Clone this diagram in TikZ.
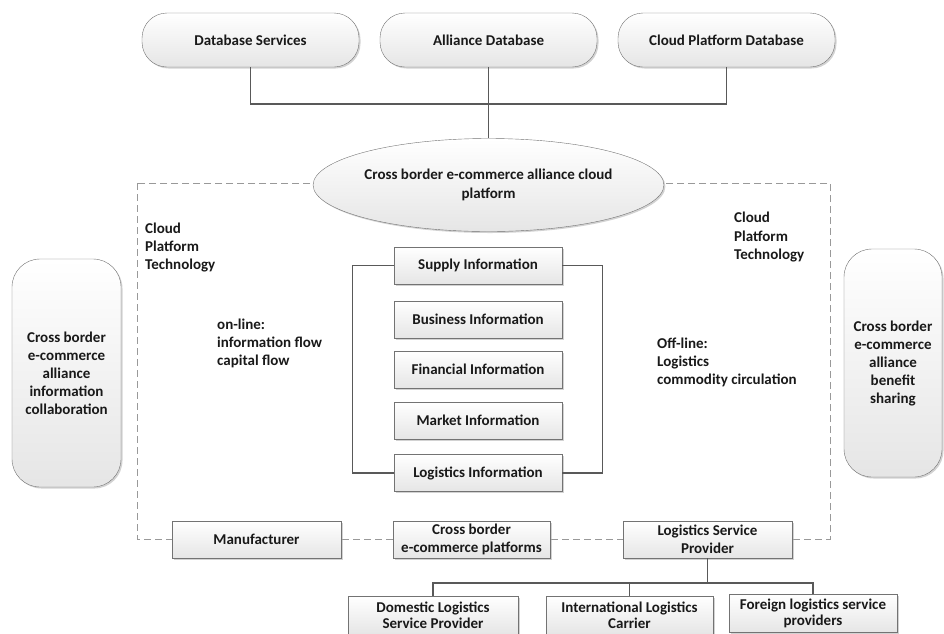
\documentclass[tikz,border=0pt]{standalone}
\usepackage{fontspec}
\setmainfont{Carlito}
\usetikzlibrary{shapes.geometric,shadows}
\colorlet{boxBorder}{black!55}
\colorlet{boxFill}{black!10}
\colorlet{textDark}{black!90}
\colorlet{lineGrey}{black!65}
\colorlet{frameGrey}{black!40}
\tikzset{
  boxBase/.style={draw=boxBorder,top color=white,bottom color=boxFill,text=textDark,
      font=\bfseries\fontsize{15}{18}\selectfont,inner sep=0pt,align=center,
      drop shadow={shadow xshift=1.5pt,shadow yshift=-1.5pt,fill=black!35,opacity=0.5}},
  pillNode/.style={boxBase,rectangle,rounded corners=25pt,minimum width=217pt,minimum height=54pt},
  sidePill/.style={boxBase,rectangle,rounded corners=28pt,minimum height=228pt},
  infoBox/.style={boxBase,rectangle,minimum width=168pt,minimum height=37pt},
  subBox/.style={infoBox,minimum height=38pt,font=\bfseries\fontsize{15}{16}\selectfont},
  cloudNode/.style={boxBase,ellipse,minimum width=323pt,minimum height=93pt},
  plainLabel/.style={text=textDark,font=\bfseries\fontsize{15}{18}\selectfont,
      align=left,anchor=west,inner sep=0pt},
  connLine/.style={draw=lineGrey,line width=1.2pt},
  frameLine/.style={draw=frameGrey,line width=1pt,dash pattern=on 7pt off 4pt},
}

\begin{document}
\begin{tikzpicture}[x=1pt,y=-1pt]
  \useasboundingbox (0,0) rectangle (944,633);
  % dashed platform frame
  \draw[frameLine] (137,183) rectangle (830,539);

  \node[pillNode] at (250.5,40) (dbServices) {Database Services};
  \node[pillNode] at (488.5,40) (allianceDb) {Alliance Database};
  \node[pillNode] at (726.5,40) (cloudDb) {Cloud Platform Database};
  \node[cloudNode,font=\bfseries\fontsize{15}{19}\selectfont] at (488.5,185) (platform) {Cross border e-commerce alliance cloud\\platform};

  \coordinate (dbBus) at (488.5,104);
  \draw[connLine] (dbServices.south) |- (dbBus) -| (cloudDb.south);
  \draw[connLine] (allianceDb.south) -- (platform.north);

  \node[sidePill,minimum width=109pt] at (66.5,373) (infoCollab) {Cross border\\e-commerce\\alliance\\information\\collaboration};
  \node[sidePill,minimum width=98pt] at (893,363) (benefitShare) {Cross border\\e-commerce\\alliance\\benefit\\sharing};

  \node[plainLabel] at (145,247) (techLeft) {Cloud\\Platform\\Technology};
  \node[plainLabel] at (734,237) (techRight) {Cloud\\Platform\\Technology};
  \node[plainLabel] at (217,343) (onLine) {on-line:\\information flow\\capital flow};
  \node[plainLabel] at (657,362) (offLine) {Off-line:\\Logistics\\commodity circulation};

  \node[infoBox] at (478,265.5) (supplyInfo) {Supply Information};
  \node[infoBox] at (478,319.5) (businessInfo) {Business Information};
  \node[infoBox] at (478,369.5) (financialInfo) {Financial Information};
  \node[infoBox] at (478,420.5) (marketInfo) {Market Information};
  \node[infoBox] at (478,473) (logisticsInfo) {Logistics Information};

  \draw[connLine] (supplyInfo.west) -- ++(-41,0) |- (logisticsInfo.west);
  \draw[connLine] (supplyInfo.east) -- ++(40,0) |- (logisticsInfo.east);

  \node[infoBox,minimum width=169pt] at (256.5,539.5) (manufacturer) {Manufacturer};
  \node[infoBox,minimum width=157pt] at (471.5,539.5) (ecomPlatforms) {Cross border\\e-commerce platforms};
  \node[infoBox,minimum width=169pt] at (707.5,539.5) (logisticsProvider) {Logistics Service\\Provider};

  \node[subBox,minimum width=170pt] at (433,615) (domesticLog) {Domestic Logistics\\Service Provider};
  \node[subBox,minimum width=167pt] at (629.5,615) (intlCarrier) {International Logistics\\Carrier};
  \node[subBox,minimum width=168pt] at (813,613) (foreignLog) {Foreign logistics service\\providers};

  \coordinate (logBus) at (707.5,583);
  \draw[connLine] (logisticsProvider.south) -- (logBus);
  \draw[connLine] (domesticLog.north) |- (logBus) -| (foreignLog.north);
  \draw[connLine] (intlCarrier.north) -- (intlCarrier.north |- logBus);
\end{tikzpicture}
\end{document}
